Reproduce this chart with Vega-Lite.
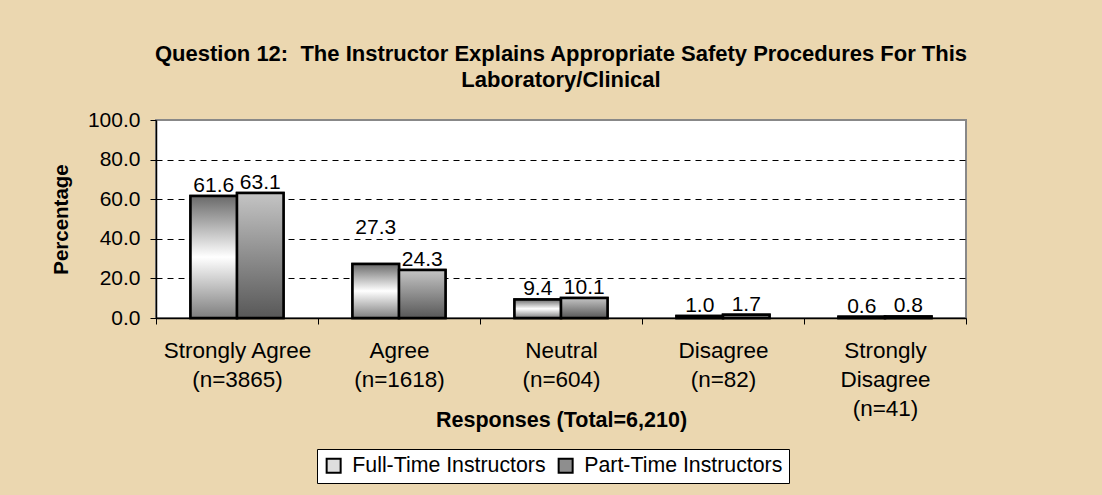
{
  "$schema": "https://vega.github.io/schema/vega-lite/v6.json",
  "width": 810,
  "height": 198,
  "autosize": {"type": "none"},
  "padding": {"left": 156, "top": 120, "right": 136, "bottom": 177},
  "background": "#EBD7B0",
  "title": {
    "text": ["Question 12:\u00a0 The Instructor Explains Appropriate Safety Procedures For This", "Laboratory/Clinical"],
    "font": "Liberation Sans",
    "fontSize": 22,
    "fontWeight": "bold",
    "color": "black",
    "anchor": "middle",
    "offset": 17,
    "lineHeight": 26
  },
  "config": {
    "font": "Liberation Sans",
    "view": {"fill": "white", "stroke": "#888888", "strokeWidth": 2}
  },
  "data": {
    "values": [
      {"response": "Strongly Agree|(n=3865)", "series": "Full-Time Instructors", "pct": 61.6},
      {"response": "Strongly Agree|(n=3865)", "series": "Part-Time Instructors", "pct": 63.1},
      {"response": "Agree|(n=1618)", "series": "Full-Time Instructors", "pct": 27.3},
      {"response": "Agree|(n=1618)", "series": "Part-Time Instructors", "pct": 24.3},
      {"response": "Neutral|(n=604)", "series": "Full-Time Instructors", "pct": 9.4},
      {"response": "Neutral|(n=604)", "series": "Part-Time Instructors", "pct": 10.1},
      {"response": "Disagree|(n=82)", "series": "Full-Time Instructors", "pct": 1.0},
      {"response": "Disagree|(n=82)", "series": "Part-Time Instructors", "pct": 1.7},
      {"response": "Strongly|Disagree|(n=41)", "series": "Full-Time Instructors", "pct": 0.6},
      {"response": "Strongly|Disagree|(n=41)", "series": "Part-Time Instructors", "pct": 0.8}
    ]
  },
  "encoding": {
    "x": {
      "field": "response",
      "type": "nominal",
      "sort": null,
      "scale": {"paddingInner": 0, "paddingOuter": 0},
      "axis": {
        "title": "Responses (Total=6,210)",
        "titleFontSize": 21.5,
        "titleFontWeight": "bold",
        "titleColor": "black",
        "titleY": 108,
        "titleBaseline": "alphabetic",
        "labelExpr": "split(datum.label, '|')",
        "labelFontSize": 22.5,
        "labelLineHeight": 29,
        "labelAngle": 0,
        "labelPadding": 15,
        "labelColor": "black",
        "tickBand": "extent",
        "tickSize": 6,
        "tickColor": "black",
        "domainColor": "black",
        "domainWidth": 1.5
      }
    },
    "xOffset": {
      "field": "series",
      "type": "nominal",
      "sort": ["Full-Time Instructors", "Part-Time Instructors"],
      "scale": {"paddingInner": 0, "paddingOuter": 0.742}
    },
    "y": {
      "field": "pct",
      "type": "quantitative",
      "scale": {"domain": [0, 100], "nice": false},
      "axis": {
        "values": [0, 20, 40, 60, 80, 100],
        "format": ".1f",
        "title": "Percentage",
        "titleFontSize": 20.5,
        "titleFontWeight": "bold",
        "titleColor": "black",
        "titlePadding": 16,
        "labelFontSize": 21,
        "labelColor": "black",
        "labelPadding": 10,
        "tickSize": 6,
        "tickColor": "black",
        "domainColor": "black",
        "domainWidth": 1.5,
        "grid": true,
        "gridColor": "black",
        "gridDash": [6, 5],
        "gridWidth": 1,
        "gridOpacity": {"condition": {"test": "datum.value == 0 || datum.value == 100", "value": 0}, "value": 1}
      }
    }
  },
  "layer": [
    {
      "mark": {"type": "bar", "stroke": "black", "strokeWidth": 2.5},
      "encoding": {
        "color": {
          "field": "series",
          "type": "nominal",
          "sort": ["Full-Time Instructors", "Part-Time Instructors"],
          "scale": {"range": ["#dedede", "#8e8e8e"]},
          "legend": {
            "orient": "none",
            "legendX": 161,
            "legendY": 329,
            "direction": "horizontal",
            "title": null,
            "fillColor": "white",
            "strokeColor": "black",
            "padding": 6,
            "symbolType": "square",
            "symbolSize": 196,
            "symbolStrokeColor": "black",
            "symbolStrokeWidth": 2,
            "symbolOpacity": 1,
            "labelFontSize": 21.3,
            "labelColor": "black",
            "labelOffset": 8,
            "columnPadding": 8,
            "labelLimit": 400
          }
        }
      }
    },
    {
      "transform": [{"filter": "datum.series == 'Full-Time Instructors'"}],
      "mark": {
        "type": "bar",
        "stroke": "black",
        "strokeWidth": 2.5,
        "fill": {"gradient": "linear", "x1": 0, "y1": 0, "x2": 0, "y2": 1, "stops": [{"offset": 0, "color": "#6a6a6a"}, {"offset": 0.5, "color": "#ffffff"}, {"offset": 1, "color": "#7e7e7e"}]}
      }
    },
    {
      "transform": [{"filter": "datum.series == 'Part-Time Instructors'"}],
      "mark": {
        "type": "bar",
        "stroke": "black",
        "strokeWidth": 2.5,
        "fill": {"gradient": "linear", "x1": 0, "y1": 0, "x2": 0, "y2": 1, "stops": [{"offset": 0, "color": "#c4c4c4"}, {"offset": 1, "color": "#585858"}]}
      }
    },
    {
      "transform": [{"filter": "datum.pct != 27.3"}],
      "mark": {"type": "text", "baseline": "alphabetic", "dy": -4, "fontSize": 21, "color": "black"},
      "encoding": {"text": {"field": "pct", "type": "quantitative", "format": ".1f"}}
    },
    {
      "transform": [{"filter": "datum.pct == 27.3"}],
      "mark": {"type": "text", "baseline": "alphabetic", "dy": -30, "fontSize": 21, "color": "black"},
      "encoding": {"text": {"field": "pct", "type": "quantitative", "format": ".1f"}}
    }
  ]
}
